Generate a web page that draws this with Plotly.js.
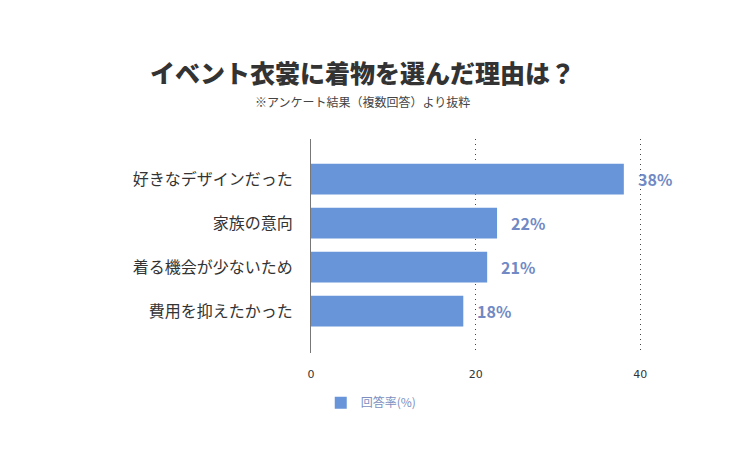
<!DOCTYPE html>
<html>
<head>
<meta charset="utf-8">
<script src="https://cdn.plot.ly/plotly-3.0.1.min.js"></script>
<style>
  html, body { margin: 0; padding: 0; background: #fff; }
  #chart { width: 750px; height: 450px; }
</style>
</head>
<body>
<div id="chart"></div>
<script>
// reasons, top to bottom
var reasons = ['好きなデザインだった', '家族の意向', '着る機会が少ないため', '費用を抑えたかった'];
var rates = [38, 22.6, 21.4, 18.5];
var rateLabels = ['38%', '22%', '21%', '18%'];
var seriesName = '回答率(%)';
var xTicks = [0, 20, 40];

var jpFont = '"Noto Sans CJK JP", "Noto Sans", sans-serif';

var trace = {
    type: 'bar',
    orientation: 'h',
    name: seriesName,
    y: reasons,
    x: rates,
    marker: { color: '#6894d9' },
    hoverinfo: 'x+y',
    showlegend: true
};

// value labels sit a bit to the right of each bar end
var labels = rates.map(function(v, i) {
    return {
        x: v, y: reasons[i], xref: 'x', yref: 'y',
        text: rateLabels[i], showarrow: false,
        xanchor: 'left', xshift: 12,
        font: { family: jpFont, size: 16, color: '#7189c4', weight: 'bold' }
    };
});

// plot area in px; x range runs a little past 40 so that gridline is drawn
var plotL = 311, plotR = 644, plotT = 139, plotB = 353;
function px(x) { return (x - plotL) / (plotR - plotL); }
function py(y) { return (plotB - y) / (plotB - plotT); }

var layout = {
    width: 750,
    height: 450,
    paper_bgcolor: '#ffffff',
    plot_bgcolor: '#ffffff',
    margin: { l: plotL, r: 750 - plotR, t: plotT, b: 450 - plotB },
    bargap: 0.3,
    font: { family: jpFont, color: '#333333' },
    xaxis: {
        range: [0, 40.45],
        tickvals: xTicks,
        showgrid: true,
        gridcolor: '#444444',
        griddash: '1px,4px',
        gridwidth: 1,
        zeroline: false,
        showline: false,
        ticks: '',
        ticklabelstandoff: 13,
        tickfont: { family: '"DejaVu Sans", sans-serif', size: 11, color: '#333333' },
        fixedrange: true
    },
    yaxis: {
        type: 'category',
        range: [3.95, -0.91],
        showgrid: false,
        zeroline: false,
        showline: true,
        linecolor: '#777777',
        linewidth: 1,
        ticks: '',
        ticklabelstandoff: 14,
        tickfont: { family: jpFont, size: 16, color: '#333333' },
        fixedrange: true
    },
    legend: {
        orientation: 'h',
        xref: 'container', yref: 'container',
        x: 0.495, xanchor: 'center',
        y: 0.105, yanchor: 'middle',
        font: { family: jpFont, size: 12, color: '#7d8fc0' },
        itemwidth: 30
    },
    annotations: labels.concat([
        {
            xref: 'paper', yref: 'paper',
            x: px(362), y: py(72),
            text: 'イベント衣裳に着物を選んだ理由は？',
            showarrow: false, xanchor: 'center', yanchor: 'middle',
            font: { family: jpFont, size: 25, color: '#333333', weight: 900 }
        },
        {
            xref: 'paper', yref: 'paper',
            x: px(362), y: py(101),
            text: '※アンケート結果（複数回答）より抜粋',
            showarrow: false, xanchor: 'center', yanchor: 'middle',
            font: { family: jpFont, size: 12, color: '#444444' }
        }
    ])
};

Plotly.newPlot('chart', [trace], layout, { displayModeBar: false, staticPlot: true });
</script>
</body>
</html>
